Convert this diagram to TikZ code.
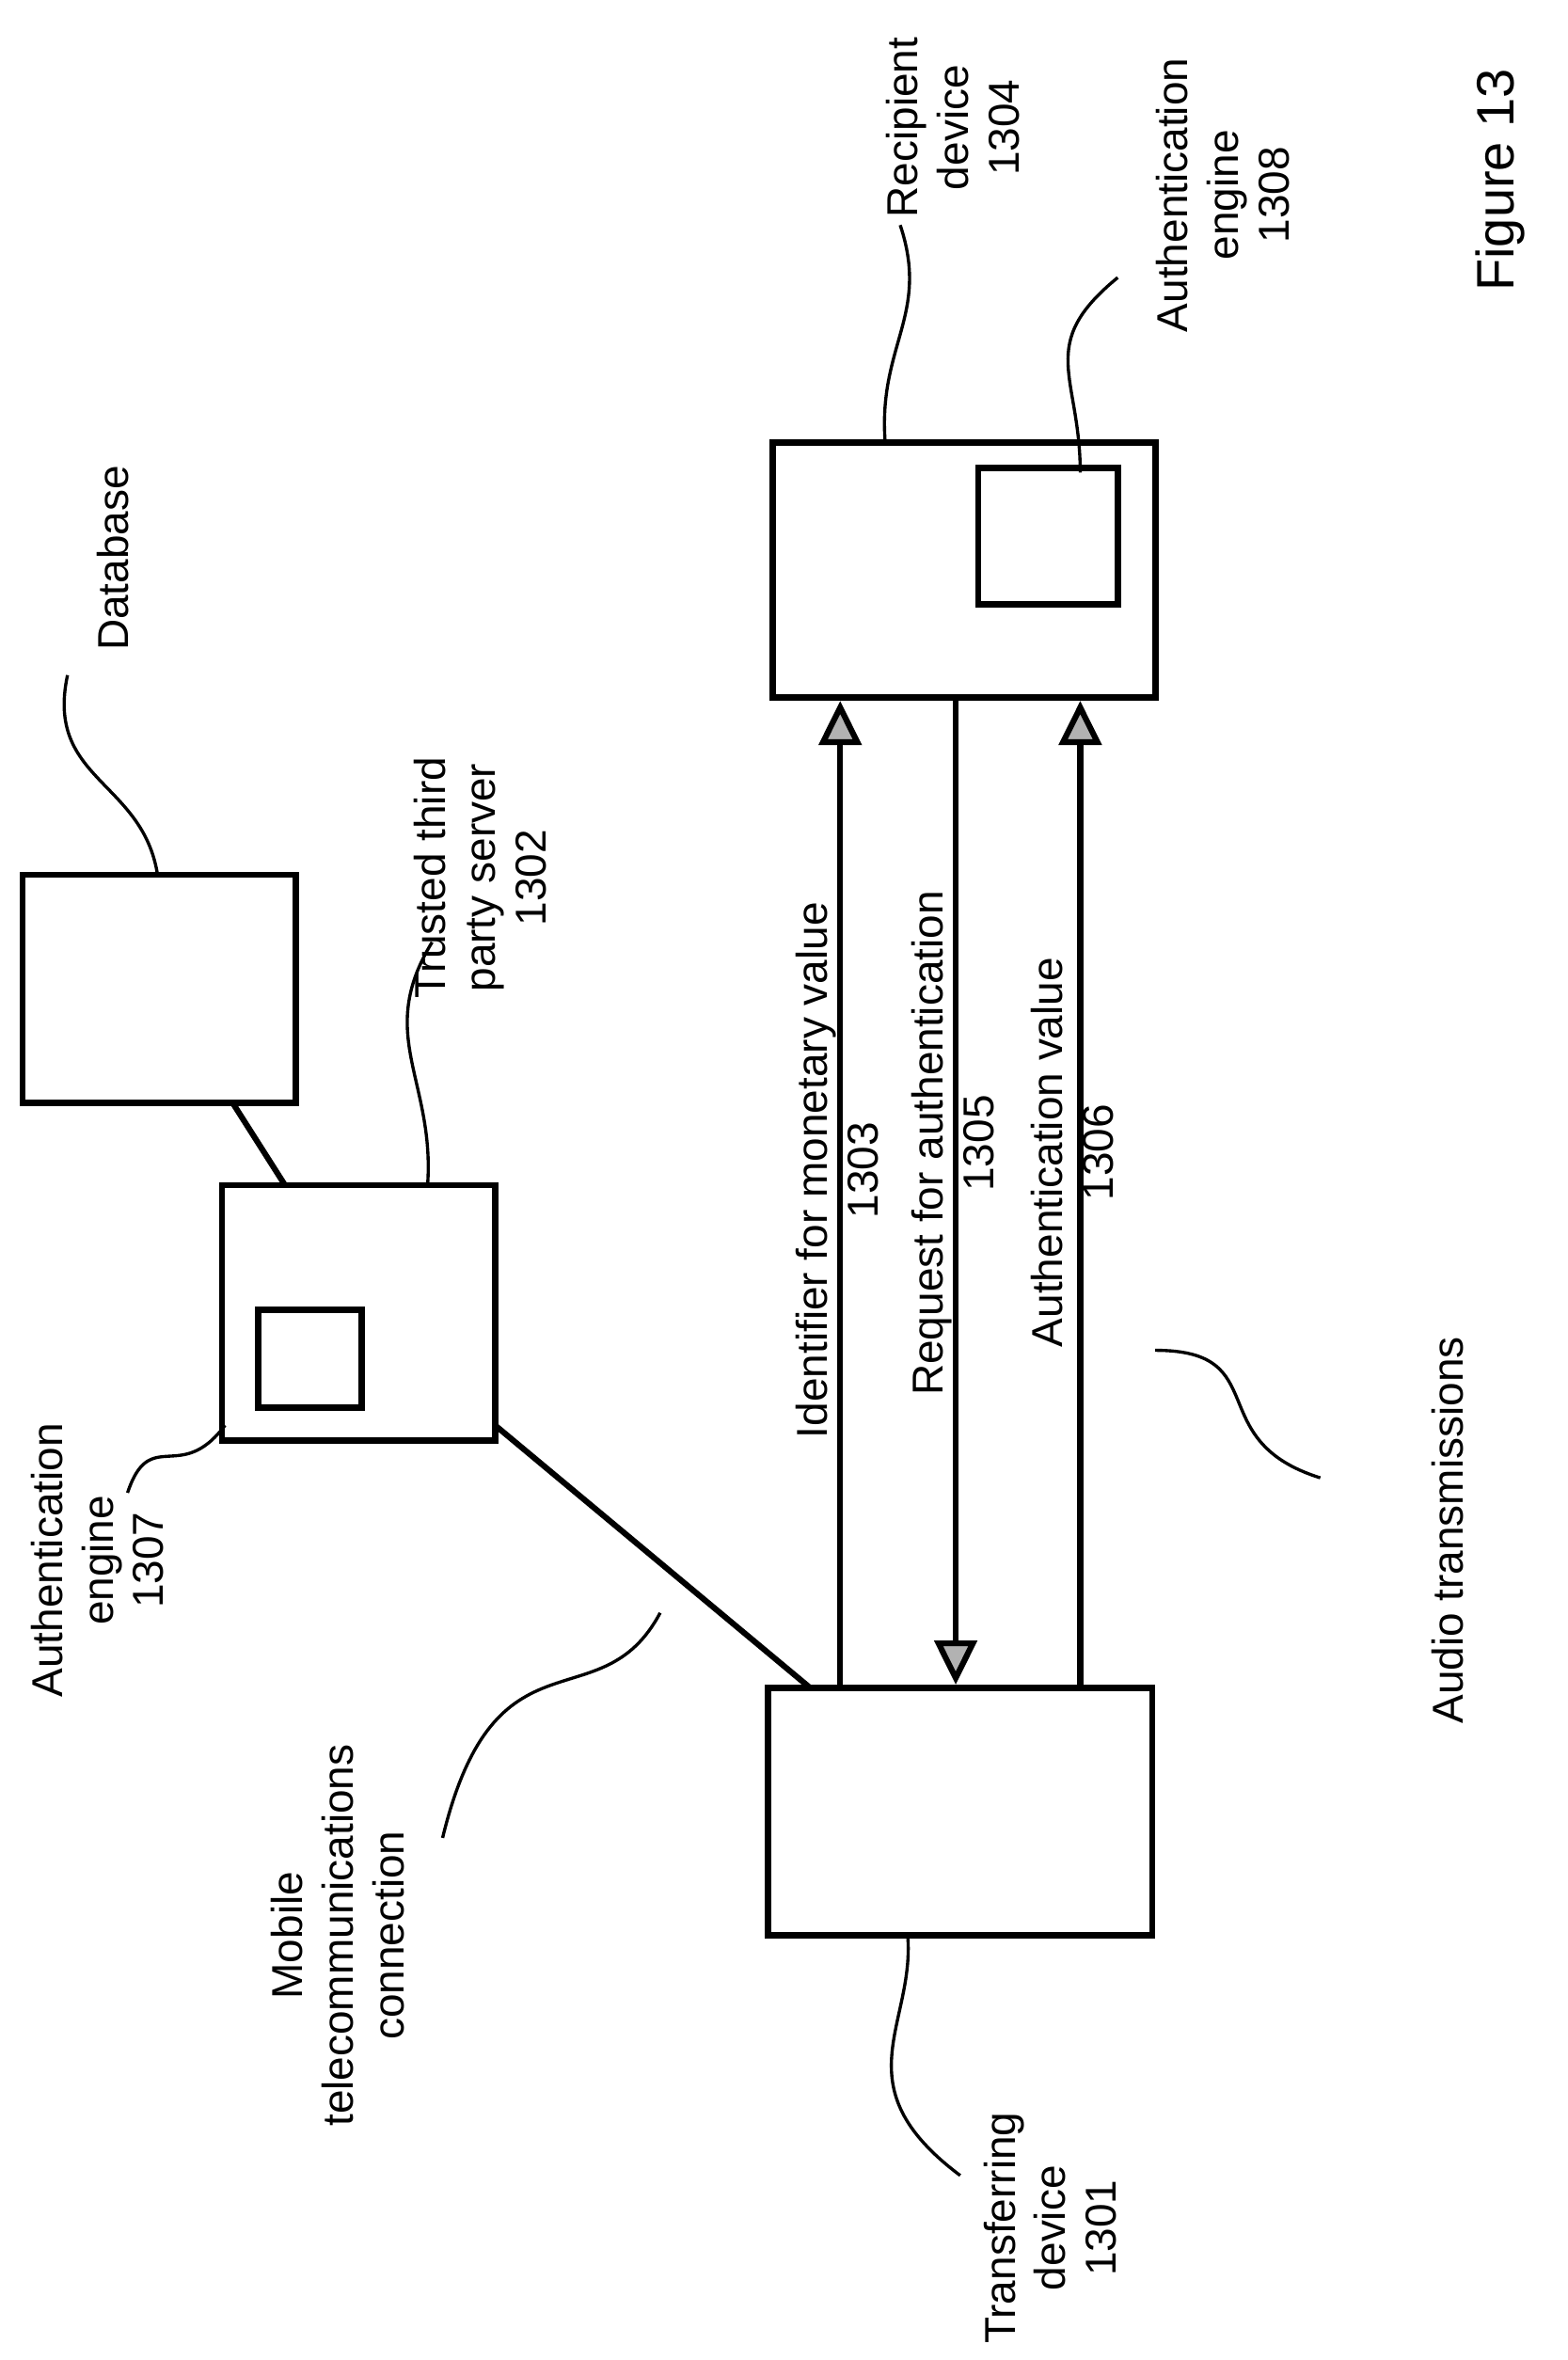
\documentclass[tikz,border=0pt]{standalone}
\usepackage{fontspec}
\setmainfont{Liberation Sans}
\usetikzlibrary{arrows.meta}
\begin{document}
\begin{tikzpicture}[x=0.05cm,y=-0.05cm,
  box/.style={draw,line width=6pt,inner sep=0pt,fill=white},
  ln/.style={line width=5.5pt},
  arr/.style={line width=5.5pt,-{Triangle[width=40pt,length=42pt,fill=gray!60]}},
  lead/.style={line width=3pt},
  lab/.style={rotate=90,align=center,font=\fontsize{41}{48}\selectfont,inner sep=0pt}]
\useasboundingbox (0,0) rectangle (1045,1573);
\node[box,minimum width=9.1cm,minimum height=7.6cm] (db) at (106,659) {};
\node[box,minimum width=9.1cm,minimum height=8.5cm] (srv) at (239,875) {};
\node[box,minimum width=3.45cm,minimum height=3.25cm] (ae1) at (206.5,905.5) {};
\node[box,minimum width=12.75cm,minimum height=8.5cm] (rec) at (642.5,380) {};
\node[box,minimum width=4.65cm,minimum height=4.55cm] (ae2) at (698.5,357.5) {};
\node[box,minimum width=12.8cm,minimum height=8.25cm] (tr) at (640,1207.5) {};
\draw[ln] (155,735) -- (190,790);
\draw[ln] (330,950) -- (540,1125);
\draw[arr] (tr.north -| 560,0) -- (rec.south -| 560,0);
\draw[arr] (rec.south -| 637,0) -- (tr.north -| 637,0);
\draw[arr] (tr.north -| 720,0) -- (rec.south -| 720,0);
\node[lab] (l1) at (558,780) {Identifier for monetary value\\1303};
\node[lab] (l2) at (635,762) {Request for authentication\\1305};
\node[lab] (l3) at (715,768) {Authentication value\\1306};
\node[lab] (tdb) at (75,372) {Database};
\node[lab] (tsrv) at (320,585) {Trusted third\\party server\\1302};
\node[lab] (trec) at (635,85) {Recipient\\device\\1304};
\node[lab] (tae2) at (815,130) {Authentication\\engine\\1308};
\node[lab,font=\fontsize{50}{58}\selectfont] (fig) at (1000,120) {Figure 13};
\node[lab] (tae1) at (65,1040) {Authentication\\engine\\1307};
\node[lab] (tmob) at (225,1290) {Mobile\\telecommunications\\connection};
\node[lab] (ttr) at (700,1485) {Transferring\\device\\1301};
\node[lab] (taud) at (965,1020) {Audio transmissions};
\draw[lead] (105,583) .. controls (95,520) and (30,520) .. (45,450);
\draw[lead] (285,790) .. controls (290,720) and (250,690) .. (288,628);
\draw[lead] (590,295) .. controls (585,230) and (620,210) .. (600,150);
\draw[lead] (720,315) .. controls (720,250) and (690,230) .. (745,185);
\draw[lead] (150,950) .. controls (120,990) and (100,950) .. (85,995);
\draw[lead] (440,1075) .. controls (400,1150) and (330,1080) .. (295,1225);
\draw[lead] (605,1290) .. controls (610,1350) and (560,1390) .. (640,1450);
\draw[lead] (770,900) .. controls (850,900) and (800,960) .. (880,985);
\end{tikzpicture}
\end{document}
